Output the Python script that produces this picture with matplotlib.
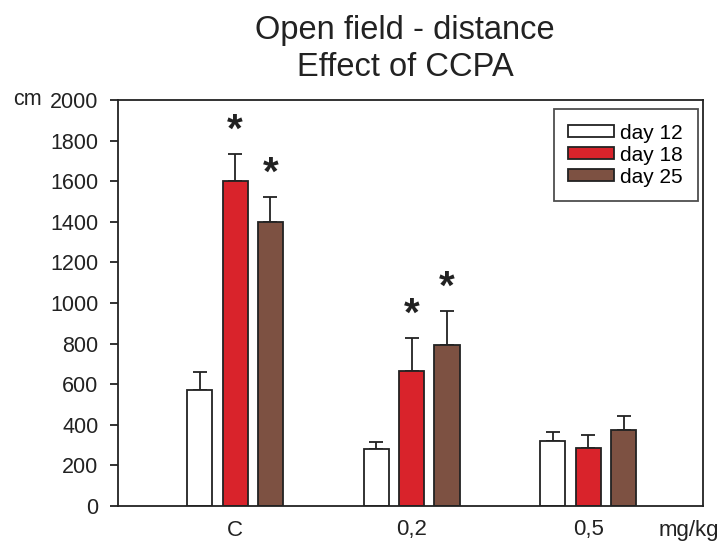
import matplotlib.pyplot as plt
import numpy as np

plt.rcParams['font.family'] = ['Liberation Sans', 'DejaVu Sans']

groups = ["C", "0,2", "0,5"]
series = ["day 12", "day 18", "day 25"]
colors = ["white", "#d9232b", "#7d5142"]

means = {
    "day 12": [572, 281, 320],
    "day 18": [1601, 665, 286],
    "day 25": [1399, 793, 374],
}
errors = {
    "day 12": [88, 34, 44],
    "day 18": [133, 163, 64],
    "day 25": [123, 168, 69],
}
# significance markers (group index, series)
stars = [(0, "day 18"), (0, "day 25"), (1, "day 18"), (1, "day 25")]

fig = plt.figure(figsize=(7.2, 5.42), dpi=100)
ax = fig.add_axes([118 / 720, 1 - 506 / 542, (703 - 118) / 720, (506 - 100) / 542])

x = np.arange(len(groups))
width = 0.142
step = 0.2
for i, s in enumerate(series):
    pos = x + (i - 1) * step
    ax.bar(pos, means[s], width, color=colors[i], edgecolor="#222222",
           linewidth=1.3, label=s, zorder=2)
    ax.errorbar(pos, means[s], yerr=[np.zeros(len(groups)), errors[s]],
                fmt="none", ecolor="#222222", elinewidth=1.3, capsize=5,
                capthick=1.3, zorder=1)

for g, s in stars:
    i = series.index(s)
    top = means[s][g] + errors[s][g]
    ax.text(x[g] + (i - 1) * step, top + 20, "*", ha="center", va="bottom",
            fontsize=29, fontweight="bold", color="#222222")

ax.set_xlim(-0.663, 2.65)
ax.set_ylim(0, 2000)
ax.set_yticks(np.arange(0, 2001, 200))
ax.tick_params(axis="y", direction="out", length=6, width=1.3, labelsize=15.5,
               pad=8, colors="#222222")
ax.set_xticks([])
for sp in ax.spines.values():
    sp.set_linewidth(1.3)
    sp.set_color("#222222")

for g, name in enumerate(groups):
    ax.text(x[g], -24 / 406, name, transform=ax.get_xaxis_transform(),
            ha="center", va="center", fontsize=16, color="#222222")
fig.text(719 / 720, 1 / 542, "mg/kg", ha="right", va="bottom",
         fontsize=16, color="#222222")
fig.text(13 / 720, 1 - 100 / 542, "cm", ha="left", va="center",
         fontsize=15.5, color="#222222")

fig.text(405 / 720, 1 - 31 / 542, "Open field - distance", ha="center",
         va="center", fontsize=23.5, color="#222222")
fig.text(405 / 720, 1 - 68 / 542, "Effect of CCPA", ha="center",
         va="center", fontsize=23.5, color="#222222")

leg = ax.legend(loc="upper right", bbox_to_anchor=(0.991, 0.978), fontsize=15,
                frameon=True, fancybox=False, edgecolor="#222222",
                handlelength=2.2, handleheight=0.5, borderpad=0.7,
                labelspacing=0.15, handletextpad=0.3, borderaxespad=0)
leg.get_frame().set_linewidth(1.3)
for h in leg.legend_handles:
    h.set_linewidth(1.3)

fig.savefig("out.png", dpi=100)
